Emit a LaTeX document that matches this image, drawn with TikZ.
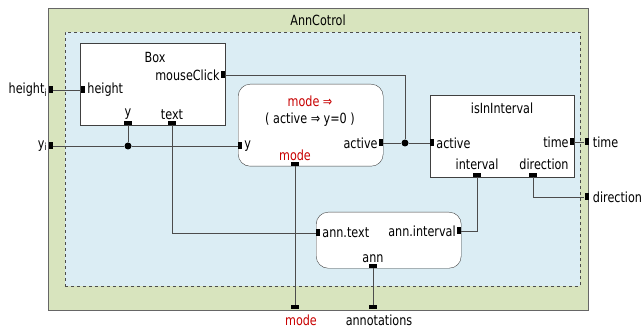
\documentclass[tikz,border=0pt]{standalone}
\usepackage{fontspec}
\setmainfont{DejaVu Sans}[FakeStretch=0.8]
\usetikzlibrary{positioning}

\definecolor{shellgreen}{RGB}{216,228,190}
\definecolor{innerblue}{RGB}{219,237,244}
\definecolor{modered}{RGB}{200,0,0}

\tikzset{
  block/.style={draw=black!75, fill=white, inner sep=0pt, anchor=north west},
  vport/.style={fill=black, inner sep=0pt, minimum width=4pt, minimum height=7pt},
  hport/.style={fill=black, inner sep=0pt, minimum width=8pt, minimum height=4pt},
  joint/.style={circle, fill=black, inner sep=0pt, minimum size=7pt},
  lbl/.style={inner sep=1pt, font=\fontsize{14}{15}\selectfont},
  wire/.style={draw=black!70, line width=0.9pt},
}

\begin{document}
\begin{tikzpicture}[x=1pt, y=-1pt]
	\useasboundingbox (0,0) rectangle (644,328);
	% outer and inner frames
	\node[draw=black!60, fill=shellgreen, inner sep=0pt, anchor=north west,
	      minimum width=540pt, minimum height=302pt] (shell) at (48,8) {};
	\node[draw=black!70, dashed, fill=innerblue, inner sep=0pt, anchor=north west,
	      minimum width=515pt, minimum height=254pt] (inner) at (65,32) {};
	\node[lbl] (title) at (318,20) {AnnCotrol};

	% blocks
	\node[block, minimum width=145pt, minimum height=82pt] (box) at (80,43) {};
	\node[block, rounded corners=12pt, minimum width=145pt, minimum height=82pt] (cond) at (238,84) {};
	\node[block, minimum width=144pt, minimum height=82pt] (iv) at (430,95) {};
	\node[block, rounded corners=12pt, minimum width=145pt, minimum height=56pt] (ann) at (316,212) {};

	% ports
	\node[vport] (hi) at (50.5,90) {};
	\node[vport] (yi) at (50.5,146) {};
	\node[vport] (box-h) at (83,90) {};
	\node[vport] (box-mc) at (223,75) {};
	\node[hport] (box-y) at (128,123) {};
	\node[hport] (box-t) at (172,123) {};
	\node[vport] (cond-y) at (240,146) {};
	\node[vport] (cond-a) at (381,143) {};
	\node[hport] (cond-m) at (295,164) {};
	\node[vport] (iv-a) at (432,143) {};
	\node[vport] (iv-t) at (572,142) {};
	\node[hport] (iv-i) at (477,175) {};
	\node[hport] (iv-d) at (533,175) {};
	\node[vport] (time-o) at (586.5,142) {};
	\node[vport] (dir-o) at (586.5,197) {};
	\node[vport] (ann-t) at (318,233) {};
	\node[vport] (ann-i) at (459,231) {};
	\node[hport] (ann-a) at (373,266) {};
	\node[hport] (mode-o) at (295,307) {};
	\node[hport] (ann-o) at (373,307) {};

	% junctions
	\node[joint] (j1) at (128,146) {};
	\node[joint] (j2) at (405,143) {};

	% wires
	\draw[wire] (hi) -- (box-h);
	\draw[wire] (yi) -- (j1) -- (cond-y);
	\draw[wire] (box-y) -- (j1);
	\draw[wire] (box-mc) -| (j2);
	\draw[wire] (cond-a) -- (j2) -- (iv-a);
	\draw[wire] (iv-t) -- (time-o);
	\draw[wire] (iv-d) |- (dir-o);
	\draw[wire] (iv-i) |- (ann-i);
	\draw[wire] (box-t) |- (ann-t);
	\draw[wire] (cond-m) -- (mode-o);
	\draw[wire] (ann-a) -- (ann-o);

	% labels
	\node[lbl] (box-name) at (155,57) {Box};
	\node[lbl, right=1pt of box-h] (box-h-l) {height};
	\node[lbl, left=0pt of box-mc] (box-mc-l) {mouseClick};
	\node[lbl, above=0pt of box-y] (box-y-l) {y};
	\node[lbl, above=0pt of box-t] (box-t-l) {text};
	\node[lbl, left=0pt of hi] (hi-l) {height\textsubscript{i}};
	\node[lbl, left=0pt of yi] (yi-l) {y\textsubscript{i}};

	\node[lbl, text=modered] (cond-top) at (310,101) {mode ⇒};
	\node[lbl] (cond-mid) at (310,120) {( active ⇒ y=0 )};
	\node[lbl, right=1pt of cond-y] (cond-y-l) {y};
	\node[lbl, left=0pt of cond-a] (cond-a-l) {active};
	\node[lbl, text=modered, above=0pt of cond-m] (cond-m-l) {mode};

	\node[lbl] (iv-name) at (502,108) {isInInterval};
	\node[lbl, right=1pt of iv-a] (iv-a-l) {active};
	\node[lbl, left=0pt of iv-t] (iv-t-l) {time};
	\node[lbl] (iv-i-l) at (477,164) {interval};
	\node[lbl] (iv-d-l) at (544,164) {direction};
	\node[lbl, right=3pt of time-o] (time-l) {time};
	\node[lbl, right=3pt of dir-o] (dir-l) {direction};

	\node[lbl, right=1pt of ann-t] (ann-t-l) {ann.text};
	\node[lbl, left=0pt of ann-i] (ann-i-l) {ann.interval};
	\node[lbl, above=0pt of ann-a] (ann-a-l) {ann};
	\node[lbl, text=modered] (mode-l) at (301,320) {mode};
	\node[lbl] (ann-o-l) at (379,320) {annotations};
\end{tikzpicture}
\end{document}
